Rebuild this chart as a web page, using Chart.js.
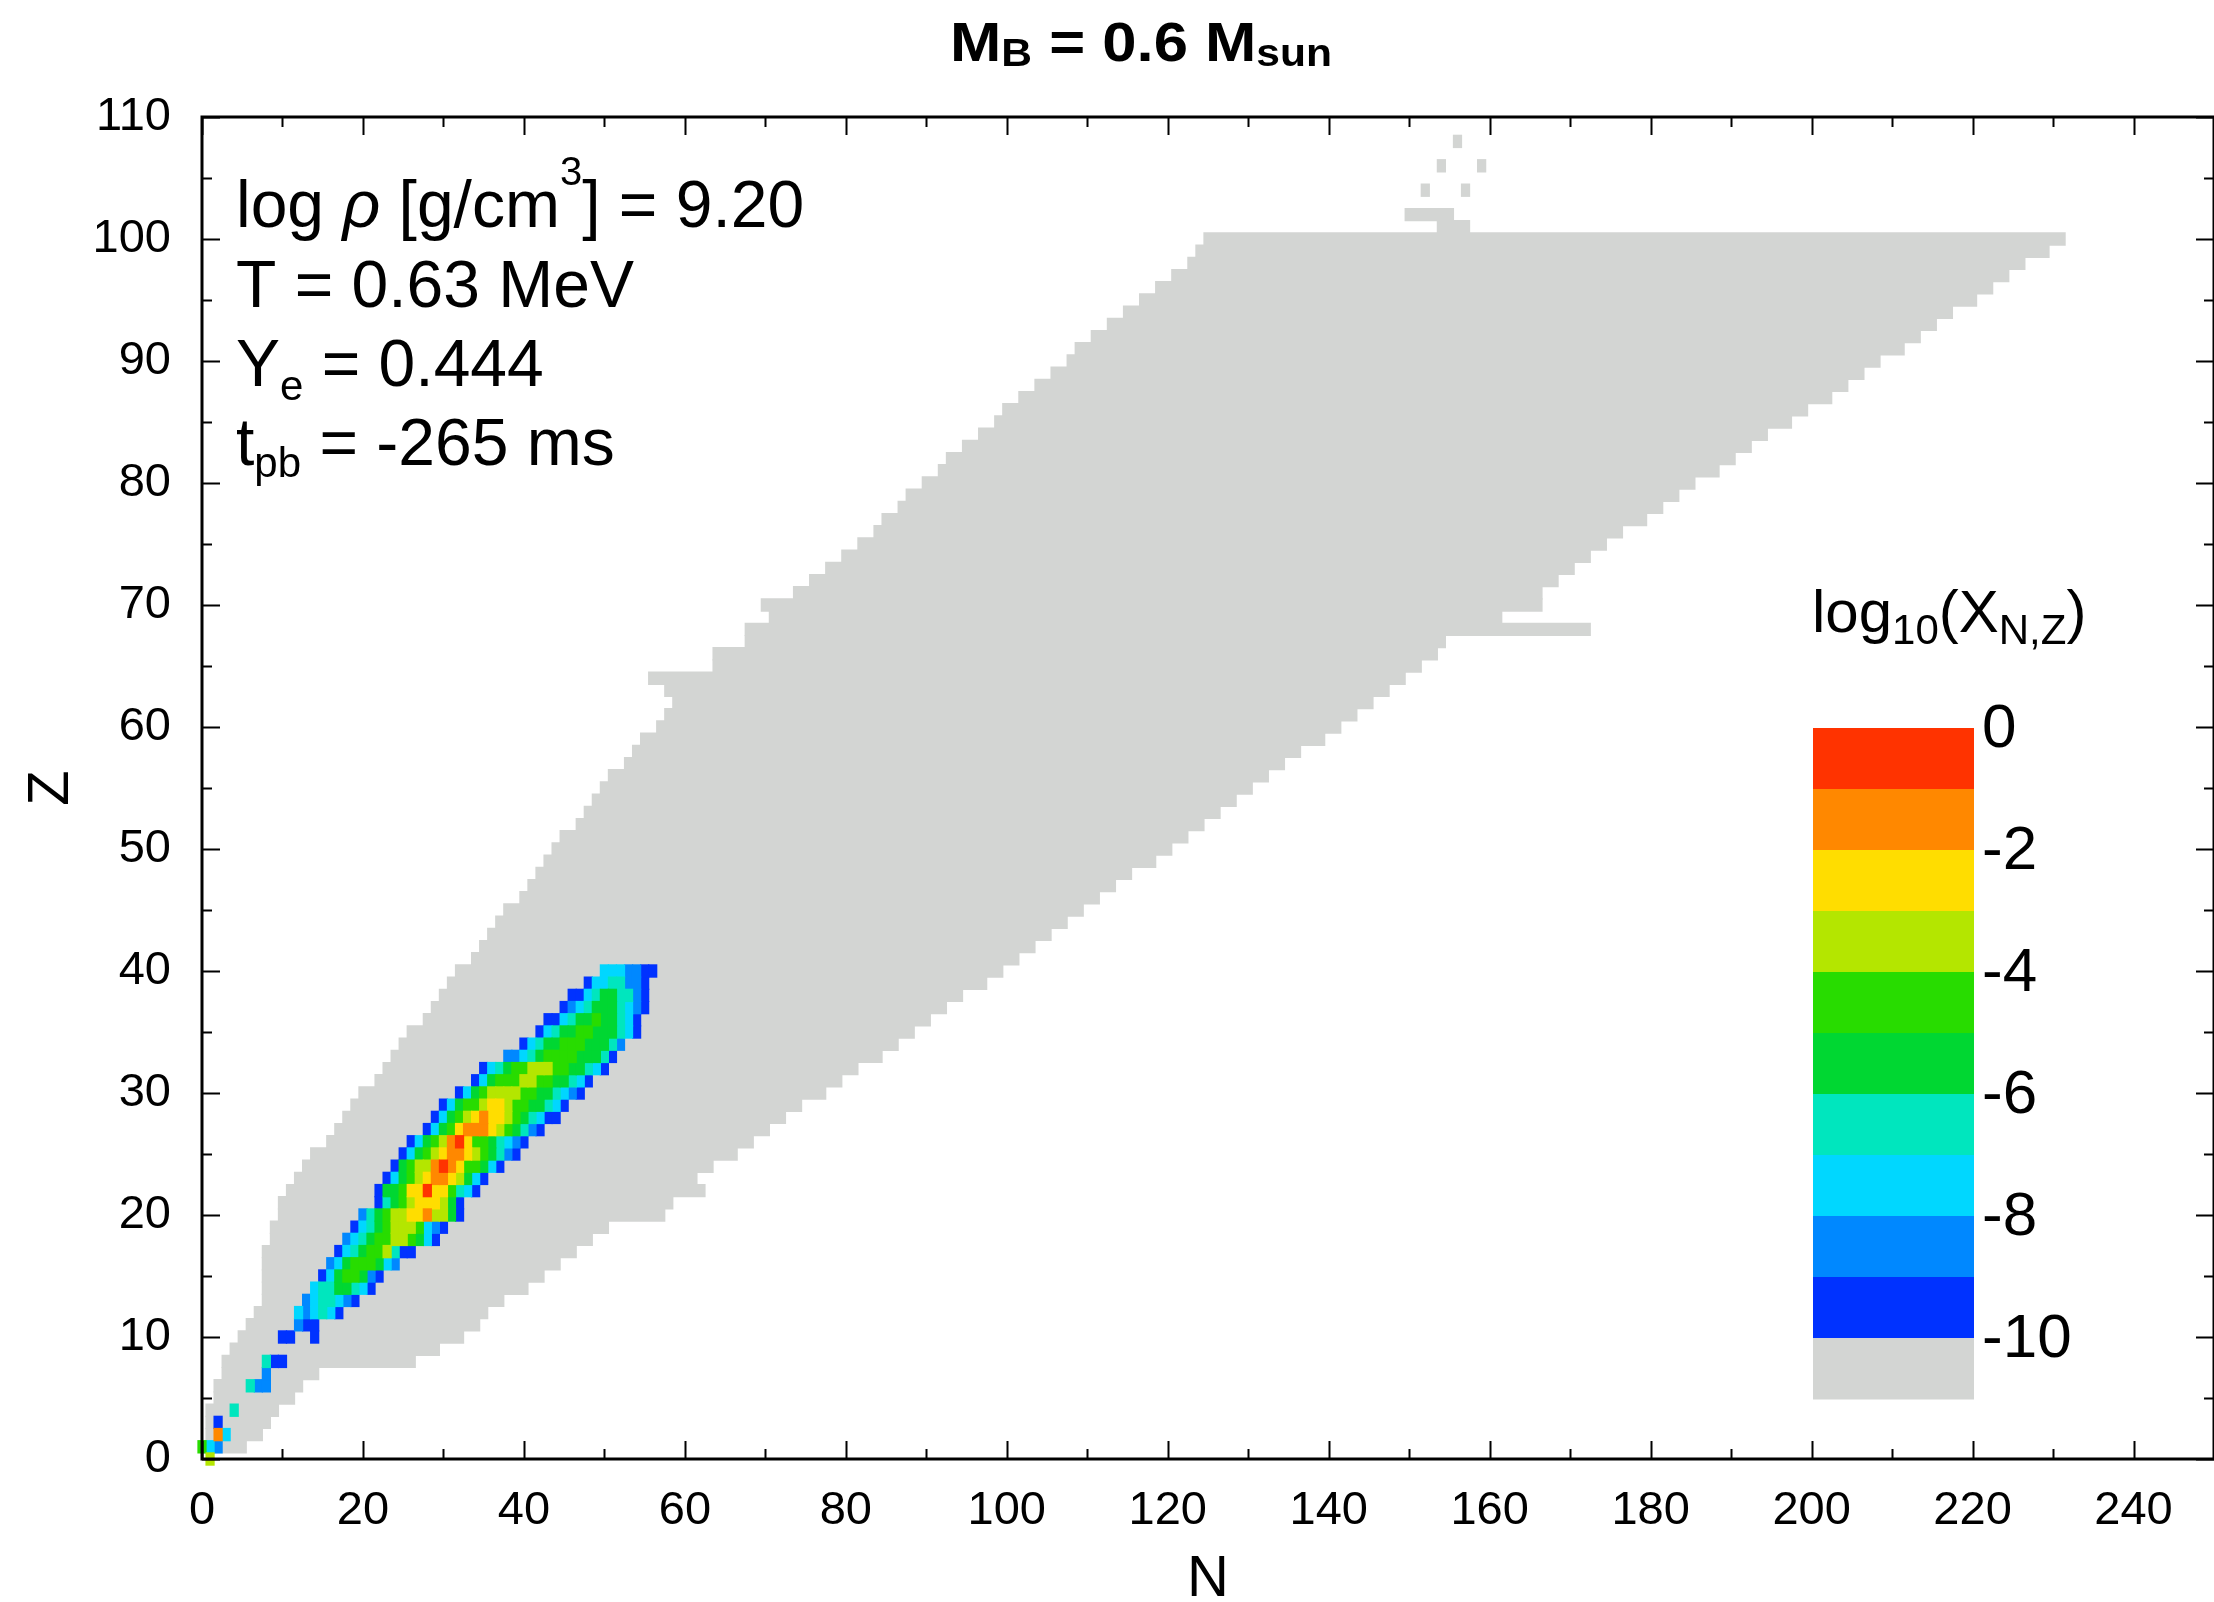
<!DOCTYPE html>
<html>
<head>
<meta charset="utf-8">
<title>Nuclear abundances</title>
<script src="https://cdn.jsdelivr.net/npm/chart.js@4.4.1/dist/chart.umd.min.js"></script>
<style>
  html, body { margin: 0; padding: 0; background: #ffffff; }
  #box { position: relative; width: 2214px; height: 1602px; }
</style>
</head>
<body>
<div id="box"><canvas id="chart"></canvas></div>
<script>
// ---------------- data ----------------
const xTicks = [0, 20, 40, 60, 80, 100, 120, 140, 160, 180, 200, 220, 240];
const yTicks = [0, 10, 20, 30, 40, 50, 60, 70, 80, 90, 100, 110];

// Nuclei included in the network: for each Z the lightest and heaviest N
const gridZ = Array.from({ length: 100 }, (_, i) => i + 1);
const gridNmin = [
  0, 1, 1, 1, 2, 2, 3, 3, 4, 5,
  6, 7, 8, 8, 8, 8, 8, 9, 9, 10,
  10, 11, 12, 13, 14, 16, 17, 18, 19, 20,
  22, 23, 24, 25, 26, 28, 29, 30, 31, 32,
  34, 35, 36, 37, 38, 40, 41, 42, 43, 44,
  45, 47, 48, 49, 50, 51, 53, 54, 55, 57,
  58, 59, 58, 56, 64, 64, 68, 68, 71, 70,
  74, 76, 78, 80, 82, 84, 85, 87, 88, 90,
  92, 93, 95, 97, 99, 100, 102, 104, 106, 108,
  109, 111, 113, 115, 117, 119, 121, 123, 124, 125
];
const gridNmax = [
  5, 7, 8, 9, 11, 12, 14, 26, 29, 32,
  34, 35, 37, 40, 42, 44, 46, 48, 50, 57,
  58, 62, 61, 63, 66, 68, 70, 72, 74, 77,
  79, 81, 84, 86, 88, 90, 92, 94, 97, 99,
  101, 103, 105, 107, 109, 111, 113, 115, 118, 120,
  122, 124, 126, 128, 130, 132, 134, 136, 139, 141,
  143, 145, 147, 149, 151, 153, 154, 172, 161, 166,
  166, 168, 170, 172, 174, 176, 179, 181, 183, 185,
  188, 190, 192, 194, 197, 199, 202, 204, 206, 208,
  211, 213, 215, 217, 220, 222, 224, 226, 229, 231
];
// isolated heavy nuclei above Z = 100
const extraZ    = [101, 102, 104, 104, 106, 106, 108];
const extraNmin = [154, 150, 152, 157, 154, 159, 156];
const extraNmax = [157, 155, 152, 157, 154, 159, 156];

// Mass fractions: each digit d means -(d+1) < log10(X) <= -d ; '.' = below -10
const abundZ = [0, 1, 2, 3, 4, 6, 7, 8, 10, 11, 12, 13, 14, 15, 16, 17, 18, 19, 20,
  21, 22, 23, 24, 25, 26, 27, 28, 29, 30, 31, 32, 33, 34, 35, 36, 37, 38, 39, 40];
const abundStart = [1, 0, 2, 2, 4, 6, 8, 8, 10, 12, 12, 13, 14, 15, 16, 17, 18, 19, 20,
  22, 22, 23, 24, 25, 26, 28, 29, 30, 32, 34, 35, 38, 40, 42, 43, 45, 46, 48, 50];
const abundCodes = [
  '3', '478', '17', '9', '6', '688', '8', '699', '99..9', '899', '787679',
  '8766789', '76655679', '97544589', '875444578', '9765443699', '876544334579',
  '976543334789', '8654332213359', '96543222359', '9554220224679', '9754321123579',
  '95433101244579', '975432112345689', '975431024456789', '975421112345689',
  '9754321223456799', '9754432234455679', '9754333344556789', '975444334455679',
  '9765443334455679', '88765444455569', '9765544455568', '9765544555679',
  '997655455679', '98765556789', '9976556689', '97766889', '7778899'
];

// colour scale
const levelColors = ['#ff3300', '#ff8800', '#ffdd00', '#b4e600', '#28dc00',
  '#00d732', '#00e6be', '#00d7ff', '#0088ff', '#0032ff'];
const floorColor = '#d3d5d3';
const colorbarLabels = ['0', '-2', '-4', '-6', '-8', '-10'];

const FONT = '"Liberation Sans", Arial, Helvetica, sans-serif';

// ---------------- datasets ----------------
function cell(n0, n1, z) { return { x: [n0 - 0.5, n1 + 0.5], y: z }; }

const floorCells = gridZ.map((z, i) => cell(gridNmin[i], gridNmax[i], z))
  .concat(extraZ.map((z, i) => cell(extraNmin[i], extraNmax[i], z)));

const levelCells = levelColors.map(() => []);
abundZ.forEach((z, i) => {
  const s = abundStart[i], codes = abundCodes[i];
  for (let j = 0; j < codes.length; j++) {
    const c = codes[j];
    if (c === '.') continue;
    levelCells[+c].push(cell(s + j, s + j, z));
  }
});

const barCommon = { grouped: false, barPercentage: 1, categoryPercentage: 1, borderWidth: 0, inflateAmount: 0.6 };
const datasets = levelColors.map((col, k) => Object.assign({
  label: 'log10 X in (' + (-(k + 1)) + ', ' + (-k) + ']',
  data: levelCells[k], backgroundColor: col, clip: false
}, barCommon));
datasets.push(Object.assign({ label: 'log10 X < -10', data: floorCells, backgroundColor: floorColor }, barCommon));

// ---------------- drawing helpers ----------------
function setFont(ctx, p, base) {
  ctx.font = (p.italic ? 'italic ' : '') + (p.bold ? 'bold ' : '') + (p.size || base) + 'px ' + FONT;
}
function richWidth(ctx, parts, base) {
  let w = 0;
  for (const p of parts) { setFont(ctx, p, base); w += ctx.measureText(p.t).width; }
  return w;
}
function drawRich(ctx, x, y, parts, base) {
  let cx = x;
  for (const p of parts) {
    setFont(ctx, p, base);
    ctx.fillText(p.t, cx, y + (p.dy || 0));
    cx += ctx.measureText(p.t).width;
  }
}

const decorations = {
  id: 'decorations',
  afterDraw(chart) {
    const { ctx, chartArea: a, scales: { x, y } } = chart;
    ctx.save();
    ctx.fillStyle = '#000';
    ctx.textBaseline = 'alphabetic';
    ctx.textAlign = 'left';

    // title
    const titleParts = [
      { t: 'M', bold: true }, { t: 'B', bold: true, size: 38, dy: 5 },
      { t: ' = 0.6 M', bold: true }, { t: 'sun', bold: true, size: 38, dy: 5 }
    ];
    const tw = richWidth(ctx, titleParts, 55);
    ctx.save();
    ctx.translate(1141, 61);
    ctx.scale(1.12, 1);
    drawRich(ctx, -tw / 2, 0, titleParts, 55);
    ctx.restore();

    // state of the matter
    const lines = [
      [{ t: 'log ' }, { t: 'ρ', italic: true }, { t: ' [g/cm' }, { t: '3', size: 40, dy: -42 }, { t: '] = 9.20' }],
      [{ t: 'T = 0.63 MeV' }],
      [{ t: 'Y' }, { t: 'e', size: 42, dy: 14 }, { t: ' = 0.444' }],
      [{ t: 't' }, { t: 'pb', size: 42, dy: 12 }, { t: ' = -265 ms' }]
    ];
    const baselines = [227, 307, 386, 465];
    lines.forEach((ln, i) => drawRich(ctx, 236, baselines[i], ln, 66));

    // colour bar
    const cbL = 1813, cbR = 1974, cbT = 728, band = 61;
    const bandColors = levelColors.concat([floorColor]);
    bandColors.forEach((c, i) => {
      ctx.fillStyle = c;
      ctx.fillRect(cbL, cbT + i * band, cbR - cbL, band + 0.5);
    });
    ctx.fillStyle = '#000';
    ctx.font = '62px ' + FONT;
    ctx.textBaseline = 'middle';
    colorbarLabels.forEach((t, i) => ctx.fillText(t, 1982, cbT + i * 2 * band + 2));
    ctx.textBaseline = 'alphabetic';
    drawRich(ctx, 1812, 632, [
      { t: 'log' }, { t: '10', size: 42, dy: 12 }, { t: '(X' }, { t: 'N,Z', size: 42, dy: 12 }, { t: ')' }
    ], 60);

    // axis titles
    ctx.font = '58px ' + FONT;
    ctx.textAlign = 'center';
    ctx.fillText('N', (a.left + a.right) / 2, 1596);
    ctx.save();
    ctx.translate(68, (a.top + a.bottom) / 2);
    ctx.rotate(-Math.PI / 2);
    ctx.fillText('Z', 0, 0);
    ctx.restore();

    // inward tick marks on all four sides, then the frame
    ctx.strokeStyle = '#000';
    ctx.lineWidth = 2;
    ctx.beginPath();
    for (let v = x.min; v <= x.max; v += 10) {
      const px = Math.round(x.getPixelForValue(v)) + 0.5;
      const len = v % 20 === 0 ? 18 : 10;
      ctx.moveTo(px, a.bottom); ctx.lineTo(px, a.bottom - len);
      ctx.moveTo(px, a.top); ctx.lineTo(px, a.top + len);
    }
    for (let v = y.min; v <= y.max; v += 5) {
      const py = Math.round(y.getPixelForValue(v)) + 0.5;
      const len = v % 10 === 0 ? 18 : 10;
      ctx.moveTo(a.left, py); ctx.lineTo(a.left + len, py);
      ctx.moveTo(a.right, py); ctx.lineTo(a.right - len, py);
    }
    ctx.stroke();
    ctx.lineWidth = 3;
    ctx.strokeRect(a.left, a.top, a.right - a.left, a.bottom - a.top);
    ctx.restore();
  }
};

new Chart(document.getElementById('chart'), {
  type: 'bar',
  data: { datasets },
  options: {
    indexAxis: 'y',
    responsive: true,
    maintainAspectRatio: false,
    animation: false,
    events: [],
    layout: { padding: { top: 117, right: 0, bottom: 0, left: 0 } },
    plugins: { legend: { display: false }, tooltip: { enabled: false }, title: { display: false } },
    scales: {
      x: {
        type: 'linear', min: 0, max: 250, offset: false,
        grid: { display: false, drawTicks: false, offset: false },
        border: { display: false },
        afterBuildTicks: s => { s.ticks = xTicks.map(v => ({ value: v })); },
        afterFit: s => { s.height = 143; },
        ticks: { font: { family: FONT, size: 47 }, color: '#000', padding: 24, maxRotation: 0, autoSkip: false }
      },
      y: {
        type: 'linear', min: 0, max: 110, offset: false,
        grid: { display: false, drawTicks: false, offset: false },
        border: { display: false },
        afterBuildTicks: s => { s.ticks = yTicks.map(v => ({ value: v })); },
        afterFit: s => { s.width = 202; },
        ticks: { font: { family: FONT, size: 47 }, color: '#000', padding: 31, autoSkip: false }
      }
    }
  },
  plugins: [decorations]
});
</script>
</body>
</html>
